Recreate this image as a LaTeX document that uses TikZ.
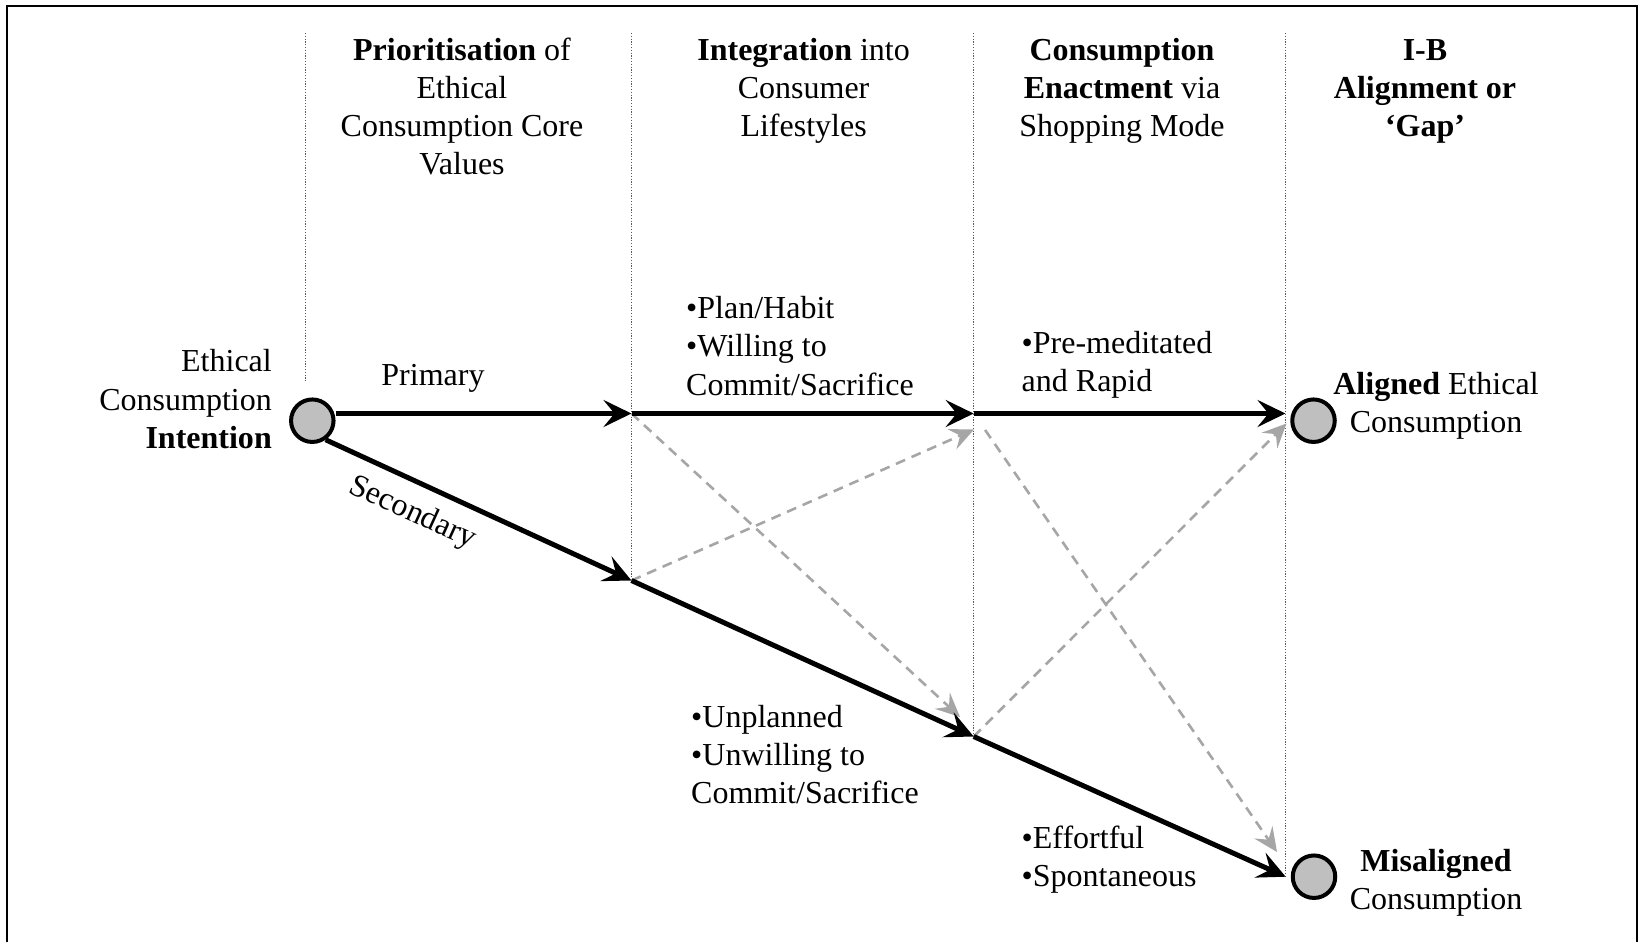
\documentclass[tikz,border=0pt]{standalone}
\usepackage{fontspec}
\setmainfont{Liberation Serif}
\usetikzlibrary{arrows.meta}
\begin{document}
\begin{tikzpicture}[x=1bp,y=-1bp,
  txt/.style={inner sep=0pt, font=\fontsize{32bp}{38.3bp}\selectfont},
  guide/.style={draw={rgb,255:red,90;green,90;blue,90}, line width=1.2bp, dash pattern=on 1.2bp off 1.6bp},
  mainarrow/.style={draw=black, line width=5bp, -{Stealth[length=28bp,width=27bp,inset=11bp]}},
  altarrow/.style={draw={rgb,255:red,166;green,166;blue,166}, line width=2.6bp, dash pattern=on 10bp off 7bp, -{Stealth[length=24bp,width=22bp,inset=9bp]}},
  endpt/.style={circle, draw=black, line width=4bp, fill={rgb,255:red,191;green,191;blue,191}, minimum size=42.5bp, inner sep=0pt}
]
\useasboundingbox (0,0) rectangle (1647,942);
\draw[line width=2bp] (7,942) -- (7,6) -- (1637,6) -- (1637,942);

% junctions
\coordinate (t1) at (631.5,413.5);
\coordinate (t2) at (973.7,413.5);
\coordinate (t3) at (1285.5,413.5);
\coordinate (b1) at (631.5,580.5);
\coordinate (b2) at (973.7,736.5);
\coordinate (b3) at (1285.7,876.7);
\coordinate (v0top) at (305.7,33);
\coordinate (v0bot) at (305.7,383);
\coordinate (v1top) at (631.5,33);
\coordinate (v2top) at (973.7,33);
\coordinate (v3top) at (1285.7,33);
\coordinate (g1end) at (960,717);
\coordinate (g2end) at (974,429.5);
\coordinate (g3end) at (1277,852);
\coordinate (g4end) at (1286.5,423.5);

% guides
\draw[guide] (v0top) -- (v0bot);
\draw[guide] (v1top) -- (b1);
\draw[guide] (v2top) -- (b2);
\draw[guide] (v3top) -- (b3);

% end points
\node[endpt] (start) at (312.3,420.7) {};
\node[endpt] (aligned) at (1313.5,420.7) {};
\node[endpt] (misaligned) at (1314,876.7) {};

% alternative paths
\draw[altarrow] (t1) -- (g1end);
\draw[altarrow] (b1) -- (g2end);
\draw[altarrow, shorten <=20bp] (t2) -- (g3end);
\draw[altarrow] (b2) -- (g4end);

% main paths
\draw[mainarrow] (start.east |- t1) -- (t1);
\draw[mainarrow] (t1) -- (t2);
\draw[mainarrow] (t2) -- (t3);
\draw[mainarrow] (start.-55) -- (b1);
\draw[mainarrow] (b1) -- (b2);
\draw[mainarrow] (b2) -- (b3);

% headers (anchor base = baseline of last line)
\node[txt, align=center, anchor=base] (h1) at (462,174.9) {\textbf{Prioritisation} of\\Ethical\\Consumption Core\\Values};
\node[txt, align=center, anchor=base] (h2) at (803.6,136.6) {\textbf{Integration} into\\Consumer\\Lifestyles};
\node[txt, align=center, anchor=base] (h3) at (1122,136.6) {\textbf{Consumption}\\\textbf{Enactment} via\\Shopping Mode};
\node[txt, align=center, anchor=base] (h4) at (1425,136.6) {\textbf{I-B}\\\textbf{Alignment or}\\\textbf{‘Gap’}};

% labels
\node[txt, align=right, anchor=base east] (intent) at (272,448.3) {Ethical\\Consumption\\\textbf{Intention}};
\node[txt, anchor=base] (primary) at (433,385) {Primary};
\node[txt, rotate=-24.5] (secondary) at (412.3,513.3) {Secondary};
\node[txt, align=left, anchor=base west] (plan) at (686,395.1) {•Plan/Habit\\•Willing to\\Commit/Sacrifice};
\node[txt, align=left, anchor=base west] (premed) at (1021.5,391.6) {•Pre-meditated\\and Rapid};
\node[txt, align=center, anchor=base] (alignedlbl) at (1436,432.5) {\textbf{Aligned} Ethical\\Consumption};
\node[txt, align=left, anchor=base west] (unplanned) at (691,803.6) {•Unplanned\\•Unwilling to\\Commit/Sacrifice};
\node[txt, align=left, anchor=base west] (effort) at (1021.5,886.3) {•Effortful\\•Spontaneous};
\node[txt, align=center, anchor=base] (misalignedlbl) at (1436,909.8) {\textbf{Misaligned}\\Consumption};
\end{tikzpicture}
\end{document}
